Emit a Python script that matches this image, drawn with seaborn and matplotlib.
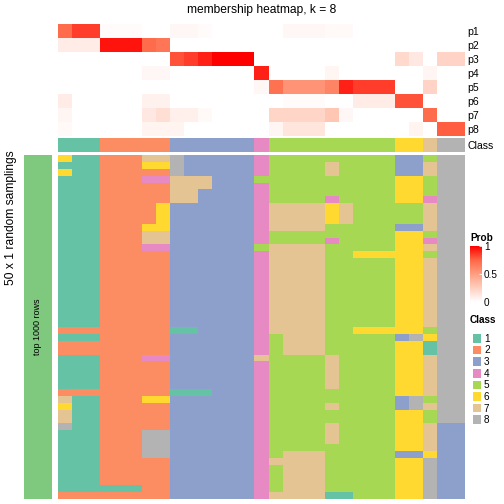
import numpy as np
import matplotlib
matplotlib.use('Agg')
import matplotlib.pyplot as plt
import seaborn as sns
from matplotlib.colors import ListedColormap, LinearSegmentedColormap

plt.rcParams['font.family'] = ['Liberation Sans', 'DejaVu Sans']

# class colours (Set2) and labels
class_labels = ['1', '2', '3', '4', '5', '6', '7', '8']
class_colors = ['#66C2A5', '#FC8D62', '#8DA0CB', '#E78AC3', '#A6D854', '#FFD92F', '#E5C494', '#B3B3B3']

# class of each of the 29 samples (columns)
col_class = [1, 1, 1, 2, 2, 2, 2, 2, 3, 3, 3, 3, 3, 3, 4, 5, 5, 5, 5, 5, 5, 5, 5, 5, 6, 6, 7, 8, 8]

# membership probabilities p1..p8
prob_labels = ['p1', 'p2', 'p3', 'p4', 'p5', 'p6', 'p7', 'p8']
p1 = [0.73, 0.85, 0.85, 0.02, 0.02, 0.02, 0, 0, 0.04, 0.04, 0.02, 0, 0, 0, 0,
      0, 0.04, 0.04, 0.04, 0.03, 0.03, 0, 0, 0, 0, 0, 0, 0, 0]
p2 = [0.1, 0.1, 0.1, 0.95, 0.95, 0.95, 0.73, 0.68, 0, 0, 0, 0, 0, 0, 0,
      0, 0, 0, 0, 0, 0, 0, 0, 0, 0, 0, 0, 0, 0]
p3 = [0, 0, 0, 0, 0, 0, 0, 0, 0.8, 0.85, 0.92, 1, 1, 1, 0,
      0, 0, 0, 0, 0, 0, 0, 0, 0, 0.2, 0.12, 0, 0.23, 0.23]
p4 = [0, 0, 0, 0, 0, 0, 0.04, 0.04, 0, 0, 0, 0, 0, 0, 0.92,
      0, 0, 0, 0, 0.05, 0, 0, 0, 0, 0, 0, 0.05, 0, 0]
p5 = [0, 0, 0, 0, 0, 0, 0, 0, 0, 0, 0, 0, 0, 0, 0.04,
      0.7, 0.55, 0.55, 0.55, 0.62, 0.92, 0.85, 0.85, 0.85, 0, 0, 0.23, 0, 0]
p6 = [0.1, 0, 0, 0, 0, 0, 0.07, 0.07, 0, 0, 0, 0, 0, 0, 0,
      0, 0.02, 0.02, 0.02, 0, 0, 0.1, 0.1, 0.1, 0.8, 0.8, 0, 0, 0]
p7 = [0.05, 0, 0, 0, 0, 0, 0.12, 0.17, 0.08, 0.08, 0.03, 0, 0, 0, 0,
      0.22, 0.22, 0.22, 0.22, 0.3, 0.04, 0, 0, 0, 0, 0, 0.73, 0, 0]
p8 = [0.03, 0, 0, 0, 0, 0, 0.06, 0.06, 0.06, 0, 0, 0, 0, 0, 0,
      0.05, 0.14, 0.14, 0.14, 0, 0, 0, 0, 0, 0, 0.06, 0, 0.77, 0.77]

# class assigned in each of the 50 random samplings (rows) for every sample
membership_rows = [
    "611 22277 833333 4 555555555 33 5 88",
    "111 22266 833333 4 555575555 33 7 88",
    "611 22222 833333 4 555575555 33 7 88",
    "111 22244 777333 5 555555555 66 5 88",
    "111 22222 777333 4 555555555 66 5 88",
    "111 22222 773333 4 555555555 66 5 88",
    "111 22222 773333 4 555545555 66 4 88",
    "111 22226 333333 4 777767555 55 7 88",
    "111 22226 333333 4 777767555 55 7 88",
    "111 22226 333333 4 777767555 55 7 88",
    "111 22266 333333 4 777755555 33 7 88",
    "111 22277 333333 4 555555555 66 5 88",
    "111 22277 333333 4 555545555 66 4 88",
    "111 22244 333333 5 777755555 66 7 88",
    "111 22222 333333 4 777755666 66 5 88",
    "111 22222 333333 4 777755555 66 7 88",
    "111 22222 333333 4 777755555 66 7 88",
    "111 22222 333333 4 777755555 66 7 88",
    "111 22222 333333 4 777755555 66 7 88",
    "111 22222 333333 4 777755555 66 7 88",
    "111 22222 333333 4 777755555 66 7 88",
    "111 22222 333333 4 777755555 66 7 88",
    "111 22222 333333 4 777755555 66 7 88",
    "111 22222 333333 4 777755555 66 7 88",
    "111 22222 333333 4 777755555 66 7 88",
    "222 22222 113333 4 777755666 66 5 88",
    "111 22222 333333 4 577755555 38 6 88",
    "222 22222 333333 4 577755555 66 1 88",
    "222 22222 333333 4 577755555 66 1 88",
    "111 22244 333333 7 555575555 66 7 88",
    "111 22222 333333 4 555575555 66 7 88",
    "111 22222 333333 4 555575555 66 7 88",
    "111 22222 333333 4 555575555 66 7 88",
    "111 22222 333333 4 555575555 66 7 88",
    "222 22222 111333 4 555555555 66 7 88",
    "711 22266 333333 4 555555555 38 5 88",
    "611 22222 333333 4 555575555 38 7 88",
    "711 22222 333333 4 555555555 66 5 88",
    "711 22222 333333 4 555555555 66 5 88",
    "811 22222 333333 4 555575555 66 7 33",
    "111 22288 333333 4 555575555 66 7 33",
    "111 22288 333333 4 555575555 66 7 33",
    "111 22288 333333 4 555555555 66 7 33",
    "111 22288 333333 4 577755555 33 6 33",
    "111 22222 333333 4 777755555 66 8 33",
    "111 22222 333333 4 577755555 66 8 33",
    "111 22222 333333 4 577755555 66 8 33",
    "111 22222 333333 4 577755555 66 8 33",
    "111 11122 333333 4 577755555 66 8 33",
    "222 22222 333333 4 777711555 66 8 33",
]

prob = np.array([p1, p2, p3, p4, p5, p6, p7, p8])
membership = np.array([[int(c) for c in r.replace(' ', '')] for r in membership_rows])

class_cmap = ListedColormap(class_colors)
prob_cmap = LinearSegmentedColormap.from_list(
    'prob', [(0, '#FFFFFF'), (0.25, '#FFCFBF'), (0.5, '#FF9E81'), (0.75, '#FF6746'), (1, '#FF0000')])

W = 504.0


def px_axes(fig, x0, y0, x1, y1):
    # axes from pixel box (origin top-left)
    return fig.add_axes([x0 / W, 1 - y1 / W, (x1 - x0) / W, (y1 - y0) / W])


fig = plt.figure(figsize=(7, 7), dpi=72)

# top: probabilities
ax_p = px_axes(fig, 58, 24, 465, 136.5)
sns.heatmap(prob, cmap=prob_cmap, vmin=0, vmax=1, cbar=False, ax=ax_p,
            xticklabels=False, yticklabels=prob_labels)

# class annotation row
ax_c = px_axes(fig, 58, 137.8, 465, 151.8)
sns.heatmap(np.array([col_class]), cmap=class_cmap, vmin=0.5, vmax=8.5, cbar=False, ax=ax_c,
            xticklabels=False, yticklabels=['Class'])

for a in (ax_p, ax_c):
    a.yaxis.tick_right()
    a.tick_params(axis='y', length=0, pad=2, labelsize=10.5, labelrotation=0)

# main membership matrix
ax_m = px_axes(fig, 58, 155, 465, 499)
sns.heatmap(membership, cmap=class_cmap, vmin=0.5, vmax=8.5, cbar=False, ax=ax_m,
            xticklabels=False, yticklabels=False)

# left green bar
ax_l = px_axes(fig, 24, 155, 52, 499)
sns.heatmap(np.ones((1, 1)), cmap=ListedColormap(['#7FC97F']), cbar=False, ax=ax_l,
            xticklabels=False, yticklabels=False)
ax_l.text(0.5, 0.5, 'top 1000 rows', rotation=90, ha='center', va='center',
          fontsize=9, transform=ax_l.transAxes)

fig.text(11 / W, 1 - 218 / W, '50 x 1 random samplings', rotation=90,
         ha='center', va='center', fontsize=12)
fig.text(262 / W, 1 - 10 / W, 'membership heatmap, k = 8', ha='center', va='center', fontsize=12)

# Prob colour bar
fig.text(470 / W, 1 - 238 / W, 'Prob', fontsize=10, fontweight='bold', va='center')
cax = px_axes(fig, 470, 246, 482, 302)
sm = plt.cm.ScalarMappable(cmap=prob_cmap, norm=plt.Normalize(0, 1))
cb = fig.colorbar(sm, cax=cax, ticks=[0, 0.5, 1])
cb.outline.set_visible(False)
cb.set_ticklabels(['0', '0.5', '1'])
cax.tick_params(labelsize=10, length=3, color='white', direction='in', pad=2)

# Class legend
fig.text(470 / W, 1 - 320 / W, 'Class', fontsize=10, fontweight='bold', va='center')
ax_leg = px_axes(fig, 471, 332, 482, 425)
sns.heatmap(np.arange(1, 9).reshape(-1, 1), cmap=class_cmap, vmin=0.5, vmax=8.5, cbar=False,
            ax=ax_leg, linewidths=1.2, linecolor='white', xticklabels=False, yticklabels=class_labels)
ax_leg.yaxis.tick_right()
ax_leg.tick_params(axis='y', length=0, pad=2, labelsize=10, labelrotation=0)

fig.savefig('out.png', dpi=72)
